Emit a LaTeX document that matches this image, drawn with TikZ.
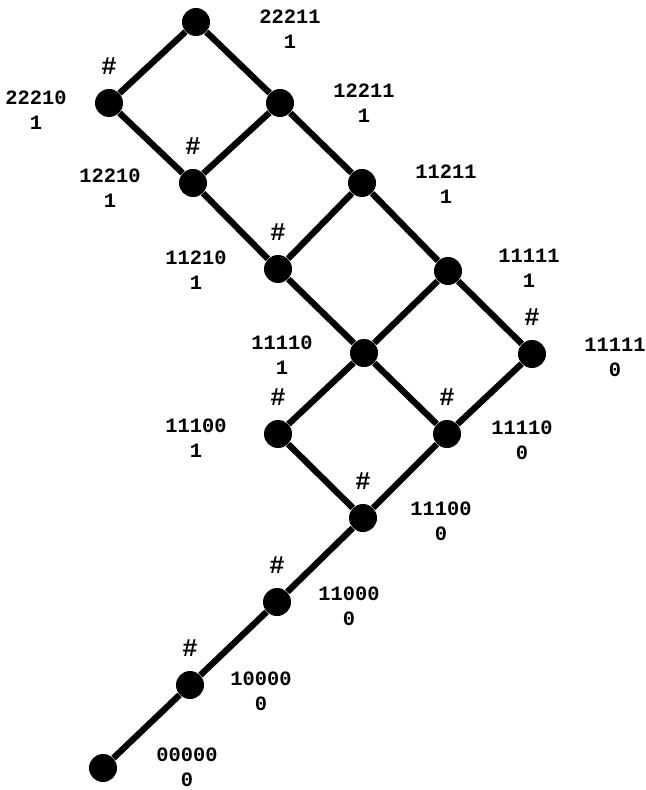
\documentclass[tikz,border=0pt]{standalone}
\usepackage{fontspec}
\setmonofont{Liberation Mono}
\usepackage{tikz}
\tikzset{
  dot/.style={circle,fill=black,inner sep=0pt,minimum size=0.56cm},
  hashlbl/.style={font=\ttfamily\bfseries\fontsize{14.5}{16}\selectfont,inner sep=0pt,label distance=0.27cm},
  marked/.style={label={[hashlbl]90:\#}},
  tag/.style={align=center,inner sep=0pt,font=\ttfamily\bfseries\fontsize{11.6}{14.2}\selectfont},
  link/.style={line width=3.6pt},
}
\begin{document}
\begin{tikzpicture}
  \useasboundingbox (0,0) rectangle (12.9,-15.8);
  % states of the lattice
  \node[dot] (a00000) at (2.06,-15.36) {};
  \node[dot,marked] (a10000) at (3.80,-13.70) {};
  \node[dot,marked] (a11000) at (5.54,-12.04) {};
  \node[dot,marked] (a11100) at (7.26,-10.36) {};
  \node[dot,marked] (b11100) at (5.56,-8.68) {};
  \node[dot,marked] (a11110) at (8.94,-8.68) {};
  \node[dot] (b11110) at (7.28,-7.06) {};
  \node[dot,marked] (a11111) at (10.64,-7.08) {};
  \node[dot] (b11111) at (8.96,-5.42) {};
  \node[dot,marked] (b11210) at (5.56,-5.38) {};
  \node[dot] (b11211) at (7.24,-3.66) {};
  \node[dot,marked] (b12210) at (3.86,-3.66) {};
  \node[dot] (b12211) at (5.60,-2.06) {};
  \node[dot,marked] (b22210) at (2.18,-2.06) {};
  \node[dot] (b22211) at (3.92,-0.44) {};
  % their labels
  \node[tag] (t00000) at (3.74,-15.34) {00000\\0};
  \node[tag] (t10000) at (5.22,-13.82) {10000\\0};
  \node[tag] (t11000) at (6.98,-12.12) {11000\\0};
  \node[tag] (t11100) at (8.82,-10.42) {11100\\0};
  \node[tag] (u11100) at (3.92,-8.76) {11100\\1};
  \node[tag] (t11110) at (10.44,-8.80) {11110\\0};
  \node[tag] (u11110) at (5.64,-7.10) {11110\\1};
  \node[tag] (t11111) at (12.30,-7.14) {11111\\0};
  \node[tag] (u11111) at (10.58,-5.36) {11111\\1};
  \node[tag] (u11210) at (3.92,-5.40) {11210\\1};
  \node[tag] (u11211) at (8.92,-3.68) {11211\\1};
  \node[tag] (u12210) at (2.20,-3.76) {12210\\1};
  \node[tag] (u12211) at (7.28,-2.06) {12211\\1};
  \node[tag] (u22210) at (0.72,-2.20) {22210\\1};
  \node[tag] (u22211) at (5.80,-0.58) {22211\\1};
  % edges
  \draw[link] (a00000) -- (a10000);
  \draw[link] (a10000) -- (a11000);
  \draw[link] (a11000) -- (a11100);
  \draw[link] (a11100) -- (b11100);
  \draw[link] (a11100) -- (a11110);
  \draw[link] (b11100) -- (b11110);
  \draw[link] (a11110) -- (b11110);
  \draw[link] (a11110) -- (a11111);
  \draw[link] (b11110) -- (b11111);
  \draw[link] (a11111) -- (b11111);
  \draw[link] (b11110) -- (b11210);
  \draw[link] (b11111) -- (b11211);
  \draw[link] (b11210) -- (b11211);
  \draw[link] (b11210) -- (b12210);
  \draw[link] (b11211) -- (b12211);
  \draw[link] (b12210) -- (b12211);
  \draw[link] (b12210) -- (b22210);
  \draw[link] (b12211) -- (b22211);
  \draw[link] (b22210) -- (b22211);
\end{tikzpicture}
\end{document}
